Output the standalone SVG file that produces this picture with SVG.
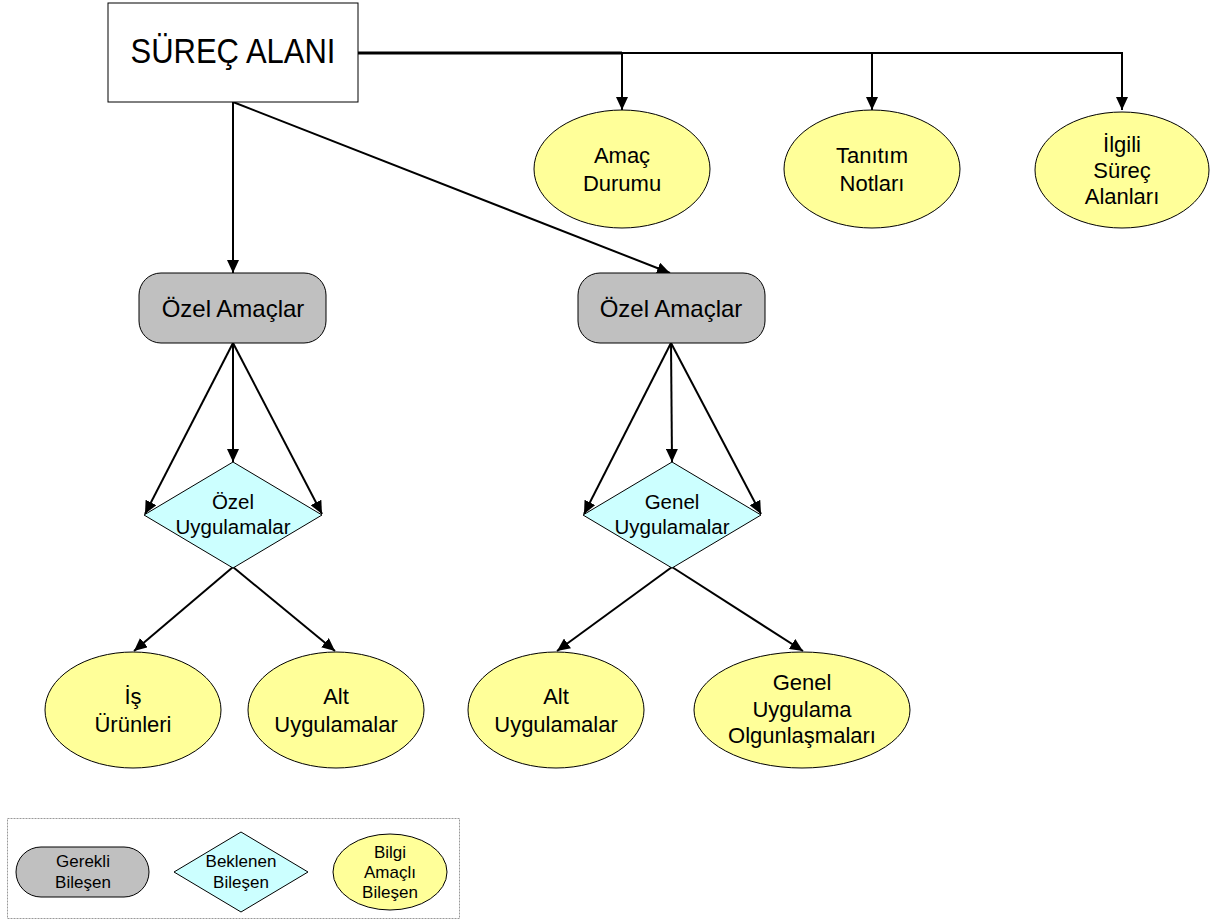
<svg xmlns="http://www.w3.org/2000/svg" width="1215" height="921" viewBox="0 0 1215 921">
<style>
text{font-family:"Liberation Sans",Arial,sans-serif;fill:#000;text-anchor:middle}
.info{fill:#ffff99;stroke:#000;stroke-width:1}
.req{fill:#c0c0c0;stroke:#000;stroke-width:1}
.exp{fill:#ccffff;stroke:#000;stroke-width:1}
.c{fill:none;stroke:#000;stroke-width:2}
.t24{font-size:24px}
.t22{font-size:22px}
.t20{font-size:20.5px}
.t16{font-size:17px}
</style>
<defs>
<marker id="ah" markerUnits="userSpaceOnUse" markerWidth="14" markerHeight="12" refX="13" refY="6" orient="auto">
<path d="M0,0 L13,6 L0,12 z" fill="#000"/>
</marker>
</defs>
<rect width="1215" height="921" fill="#fff"/>
<g id="connectors">
<path class="c" d="M358,53 H1122 V110" marker-end="url(#ah)"/>
<path d="M358,53 H622" fill="none" stroke="#000" stroke-width="3"/>
<path class="c" d="M622,53 V110" marker-end="url(#ah)"/>
<path class="c" d="M872,53 V110" marker-end="url(#ah)"/>
<path class="c" d="M233,102 V273" marker-end="url(#ah)"/>
<path class="c" d="M233,102 L670,273" marker-end="url(#ah)"/>
<path class="c" d="M233,343 L145,514" marker-end="url(#ah)"/>
<path class="c" d="M233,343 V462" marker-end="url(#ah)"/>
<path class="c" d="M233,343 L322,514" marker-end="url(#ah)"/>
<path class="c" d="M671,343 L584,514" marker-end="url(#ah)"/>
<path class="c" d="M671,343 L672,462" marker-end="url(#ah)"/>
<path class="c" d="M671,343 L761,514" marker-end="url(#ah)"/>
<path class="c" d="M233,567 L134,651" marker-end="url(#ah)"/>
<path class="c" d="M233,567 L335,651" marker-end="url(#ah)"/>
<path class="c" d="M672,567 L557,651" marker-end="url(#ah)"/>
<path class="c" d="M672,567 L803,651" marker-end="url(#ah)"/>
</g>
<g id="surec-alani">
<rect x="108" y="3" width="250" height="99" fill="#fff" stroke="#000" stroke-width="1"/>
<text transform="translate(233,63) scale(1,1.12)" x="0" y="0" style="font-size:31px">SÜREÇ ALANI</text>
</g>
<g id="amac-durumu">
<ellipse class="info" cx="622" cy="169" rx="88" ry="59"/>
<text class="t22" x="622" y="163">Amaç</text>
<text class="t22" x="622" y="191">Durumu</text>
</g>
<g id="tanitim-notlari">
<ellipse class="info" cx="872" cy="169" rx="88" ry="59"/>
<text class="t22" x="872" y="163">Tanıtım</text>
<text class="t22" x="872" y="191">Notları</text>
</g>
<g id="ilgili-surec-alanlari">
<ellipse class="info" cx="1122" cy="170" rx="87" ry="58"/>
<text class="t22" x="1122" y="152">İlgili</text>
<text class="t22" x="1122" y="178">Süreç</text>
<text class="t22" x="1122" y="204">Alanları</text>
</g>
<g id="ozel-amaclar-1">
<rect class="req" x="139" y="273" width="187" height="70" rx="22" ry="22"/>
<text class="t24" x="233" y="317">Özel Amaçlar</text>
</g>
<g id="ozel-amaclar-2">
<rect class="req" x="578" y="273" width="187" height="70" rx="22" ry="22"/>
<text class="t24" x="671" y="317">Özel Amaçlar</text>
</g>
<g id="ozel-uygulamalar">
<polygon class="exp" points="233,462 322,515 233,568 144,515"/>
<text class="t20" x="233" y="509">Özel</text>
<text class="t20" x="233" y="534">Uygulamalar</text>
</g>
<g id="genel-uygulamalar">
<polygon class="exp" points="672,462 761,515 672,568 583,515"/>
<text class="t20" x="672" y="509">Genel</text>
<text class="t20" x="672" y="534">Uygulamalar</text>
</g>
<g id="is-urunleri">
<ellipse class="info" cx="133" cy="710" rx="88" ry="58"/>
<text class="t22" x="133" y="704">İş</text>
<text class="t22" x="133" y="732">Ürünleri</text>
</g>
<g id="alt-uygulamalar-1">
<ellipse class="info" cx="336" cy="710" rx="88" ry="58"/>
<text class="t22" x="336" y="704">Alt</text>
<text class="t22" x="336" y="732">Uygulamalar</text>
</g>
<g id="alt-uygulamalar-2">
<ellipse class="info" cx="556" cy="710" rx="88" ry="58"/>
<text class="t22" x="556" y="704">Alt</text>
<text class="t22" x="556" y="732">Uygulamalar</text>
</g>
<g id="genel-uygulama-olgunlasmalari">
<ellipse class="info" cx="802" cy="710" rx="108" ry="58"/>
<text class="t22" x="802" y="690">Genel</text>
<text class="t22" x="802" y="717">Uygulama</text>
<text class="t22" x="802" y="743">Olgunlaşmaları</text>
</g>
<g id="legend">
<rect x="7.5" y="818.5" width="452" height="100" fill="#fff" stroke="#999" stroke-width="1" stroke-dasharray="2,1"/>
<g id="legend-gerekli">
<rect class="req" x="16" y="847" width="133" height="50" rx="25" ry="25"/>
<text class="t16" x="83" y="867">Gerekli</text>
<text class="t16" x="83" y="888">Bileşen</text>
</g>
<g id="legend-beklenen">
<polygon class="exp" points="241,832 308,872 241,912 174,872"/>
<text class="t16" x="241" y="867">Beklenen</text>
<text class="t16" x="241" y="888">Bileşen</text>
</g>
<g id="legend-bilgi">
<ellipse class="info" cx="390" cy="872" rx="57" ry="38"/>
<text class="t16" x="390" y="858">Bilgi</text>
<text class="t16" x="390" y="878">Amaçlı</text>
<text class="t16" x="390" y="898">Bileşen</text>
</g>
</g>
</svg>
